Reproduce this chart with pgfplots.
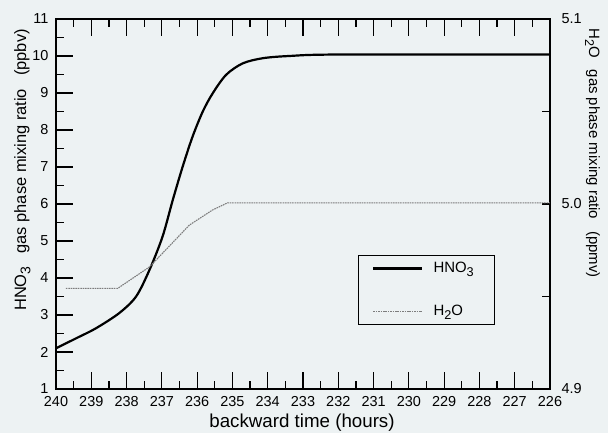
\documentclass[border=0pt]{standalone}
\usepackage{pgfplots}
\pgfplotsset{compat=1.18}
\usepackage{graphicx}
\usepackage{fontspec}
\setmainfont{Liberation Sans}
\definecolor{bgc}{RGB}{237,242,243}
\definecolor{h2oc}{RGB}{125,125,125}
\newcommand{\sub}[1]{\raisebox{-0.5ex}{\scalebox{0.85}{#1}}}

\begin{document}
\begin{tikzpicture}
\path[use as bounding box, fill=bgc] (-56bp,-44bp) rectangle (552bp,389bp);

% HNO3, left axis
\begin{axis}[
    at={(0,0)}, anchor=south west,
    scale only axis, width=494bp, height=370bp,
    x dir=reverse,
    xmin=226, xmax=240, ymin=1, ymax=11,
    xtick={226,...,240}, ytick={1,...,11},
    minor x tick num=1, minor y tick num=1,
    xtick pos=both, ytick pos=left,
    tick align=inside,
    major tick length=17bp, minor tick length=8bp,
    axis line style={line width=1.5bp},
    every tick/.style={black, line width=1.2bp},
    tick label style={font=\fontsize{14.5}{16}\selectfont},
    xticklabel style={yshift=-4bp},
    yticklabel style={xshift=-4bp},
    /pgf/number format/assume math mode=true,
]
\addplot[black, line width=2.2bp, smooth, tension=0.5] coordinates {
    (240.0, 2.10) (239.43, 2.37) (238.87, 2.64) (238.21, 3.05) (237.73, 3.50)
    (237.35, 4.22) (236.98, 5.12) (236.69, 6.11) (236.41, 7.01) (236.13, 7.82)
    (235.84, 8.50) (235.56, 8.99) (235.18, 9.49) (234.71, 9.80) (234.14, 9.94)
    (233.39, 10.00) (232.0, 10.04) (226.0, 10.04)
};
\end{axis}

% H2O, right axis
\begin{axis}[
    at={(0,0)}, anchor=south west,
    scale only axis, width=494bp, height=370bp,
    x dir=reverse,
    xmin=226, xmax=240, ymin=4.9, ymax=5.1,
    axis x line=none, axis y line*=right,
    ytick={4.9,5.0,5.1}, minor ytick={4.95,5.05},
    tick align=inside,
    major tick length=8bp, minor tick length=8bp,
    axis line style={line width=1.5bp, -},
    every tick/.style={black, line width=1.2bp},
    tick label style={font=\fontsize{14.5}{16}\selectfont},
    yticklabel style={xshift=8bp, /pgf/number format/.cd, fixed, fixed zerofill, precision=1},
    /pgf/number format/assume math mode=true,
    legend style={at={(rel axis cs:0.611,0.362)}, anchor=north west,
        draw=black, line width=1bp, fill=none,
        font=\fontsize{15}{17}\selectfont,
        inner xsep=14bp, inner ysep=5bp, row sep=27bp, column sep=3bp,
        nodes={inner xsep=7bp}},
    legend cell align=left,
    legend image code/.code={\draw[#1] (0bp,0bp) -- (49bp,0bp);},
]
\addlegendimage{black, line width=2.2bp}
\addlegendentry{HNO\sub{3}}
\addplot[h2oc, line width=1.1bp, dash pattern=on 1.6bp off 0.8bp] coordinates {
    (239.72, 4.9544) (238.25, 4.9544) (237.35, 4.966) (236.22, 4.9886)
    (235.56, 4.9968) (235.14, 5.0006) (226.0, 5.0006)
};
\addlegendentry{H\sub{2}O}
\end{axis}

\node[rotate=90, anchor=base, font=\fontsize{16.5}{18}\selectfont] at (-30bp,219bp)
    {HNO\sub{3}\hspace{0.8em}gas phase mixing ratio\hspace{0.8em}(ppbv)};
\node[rotate=-90, anchor=base, font=\fontsize{15}{17}\selectfont] at (533bp,236bp)
    {H\sub{2}O\hspace{0.8em}gas phase mixing ratio\hspace{0.8em}(ppmv)};
\node[anchor=base, font=\fontsize{18.8}{21}\selectfont] at (246bp,-38bp)
    {backward time (hours)};
\end{tikzpicture}
\end{document}
